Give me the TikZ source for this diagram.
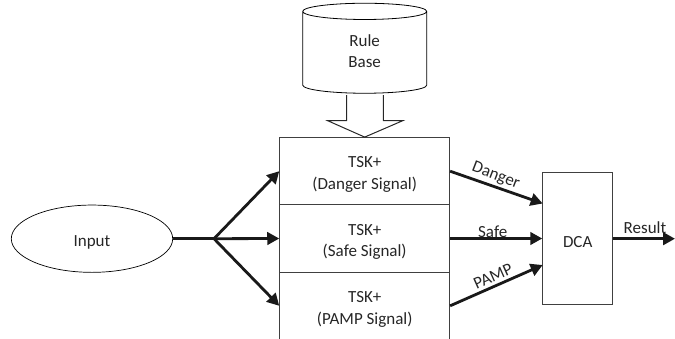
\documentclass[tikz,border=0pt]{standalone}
\usepackage{fontspec}
\setmainfont{Carlito}
\usetikzlibrary{arrows.meta, shapes.geometric}

\newcommand{\lowerline}{\rule{0pt}{18pt}}

\tikzset{
    tskbox/.style={draw=black!75, line width=0.9pt, minimum width=170, minimum height=67.3, align=center, inner sep=0},
    flow/.style={line width=2.8pt, black!90, -{Triangle[length=12,width=12.5]}},
    sig/.style={inner sep=0, font=\fontsize{17}{17}\selectfont, text=black!85},
}

\begin{document}
\begin{tikzpicture}[x=1pt, y=-1pt, font=\fontsize{17}{21.5}\selectfont, text=black!85]
    \useasboundingbox (0,0) rectangle (675,338);

    \node[draw=black, line width=0.8pt, shape=cylinder, shape border rotate=90, aspect=0.5, minimum width=124, minimum height=90, align=center, inner sep=0] (rules) at (364.7,52.5) {Rule\\Base\rule[-3pt]{0pt}{3pt}};

    \node[tskbox] (danger) at (364.7,171.2) {\lowerline TSK+\\(Danger Signal)};
    \node[tskbox] (safe) at (364.7,238.5) {\lowerline TSK+\\(Safe Signal)};
    \node[tskbox] (pamp) at (364.7,305.8) {\lowerline TSK+\\(PAMP Signal)};

    \draw[line width=1pt, black!85, line join=miter] (346.7,95) -- (346.7,120.7) -- (327.7,120.7) -- (danger.north) -- (402.7,120.7) -- (383.3,120.7) -- (383.3,95);

    \node[draw=black, line width=0.7pt, ellipse, minimum width=161.4, minimum height=67.3, inner sep=0] (input) at (92,238.7) {\lowerline Input};
    \node[draw=black!75, line width=0.9pt, minimum width=70, minimum height=131.6, inner sep=0] (dca) at (577.7,238.5) {\lowerline DCA};

    \coordinate (fork) at (214,238.7);
    \coordinate (dcadanger) at (542.7,203.5);
    \coordinate (dcapamp) at (542.7,265);
    \coordinate (output) at (675,238.7);

    \draw[line width=2.8pt, black!90] (input) -- (fork);
    \foreach \tsk in {danger,safe,pamp} {
        \draw[flow] (fork) -- (\tsk.west);
    }
    \draw[flow] (danger.east) -- (dcadanger);
    \draw[flow] (safe.east) -- (dca.west |- safe.east);
    \draw[flow] (pamp.east) -- (dcapamp);
    \draw[flow] (dca.east |- output) -- (output);

    \node[sig, rotate=-21] (ldanger) at (495.7,176) {Danger};
    \node[sig] (lsafe) at (492.7,231.5) {Safe};
    \node[sig, rotate=24] (lpamp) at (493,276) {PAMP};
    \node[sig] (lresult) at (645,227.5) {Result};
\end{tikzpicture}
\end{document}
